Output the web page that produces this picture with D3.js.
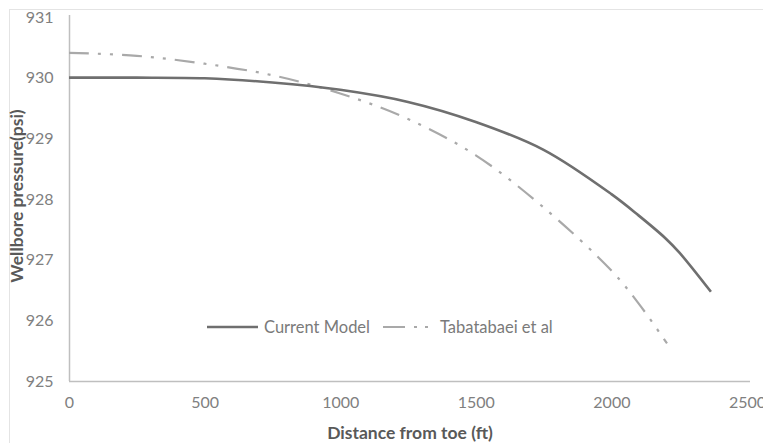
<!DOCTYPE html>
<html>
<head>
<meta charset="utf-8">
<script src="https://cdn.jsdelivr.net/npm/d3@7/dist/d3.min.js"></script>
<style>
  html, body { margin: 0; padding: 0; background: #ffffff; }
  svg { display: block; font-family: Lato, "Liberation Sans", sans-serif; }
</style>
</head>
<body>
<svg id="chart" width="769" height="443"></svg>
<script>
// ---- data ----
const currentDistance = [0, 250, 500, 750, 1000, 1250, 1500, 1750, 2000, 2100, 2200, 2250, 2367];
const currentPressure = [930.00, 930.00, 929.99, 929.92, 929.80, 929.60, 929.27, 928.81, 928.08, 927.73, 927.35, 927.12, 926.47];
const tabDistance = [0, 250, 500, 750, 1000, 1250, 1500, 1750, 2000, 2100, 2205];
const tabPressure = [930.41, 930.36, 930.23, 930.04, 929.74, 929.32, 928.72, 927.86, 926.82, 926.28, 925.62];
const xTicks = [0, 500, 1000, 1500, 2000, 2500];
const yTicks = [925, 926, 927, 928, 929, 930, 931];
const seriesNames = ["Current Model", "Tabatabaei et al"];
const xTitle = "Distance from toe (ft)";
const yTitle = "Wellbore pressure(psi)";

const svg = d3.select("#chart");
svg.append("defs").append("clipPath").attr("id", "outer")
  .append("rect").attr("x", 0).attr("y", 0).attr("width", 763).attr("height", 443);
const root = svg.append("g").attr("clip-path", "url(#outer)");

// chart area frame
root.append("rect").attr("x", 9.5).attr("y", 9.5).attr("width", 820).attr("height", 460)
  .attr("fill", "#ffffff").attr("stroke", "#e4e4e4").attr("stroke-width", 1);

const x = d3.scaleLinear().domain([0, 2500]).range([69, 747]);
const y = d3.scaleLinear().domain([925, 931]).range([381, 17]);

const tickColor = "#808080";
const axisColor = "#bfbfbf";

// x axis
const xAxis = root.append("g").attr("transform", "translate(0,381.5)")
  .call(d3.axisBottom(x).tickValues(xTicks).tickSize(0).tickPadding(15).tickFormat(d3.format("d")));
xAxis.select(".domain").attr("stroke", axisColor).attr("stroke-width", 1.5).attr("d", `M${x(0)},0H750`);
xAxis.selectAll("text").attr("fill", tickColor).attr("font-size", 16).attr("font-family", "Lato, sans-serif");

// y axis
const yAxis = root.append("g").attr("transform", "translate(69.5,0)")
  .call(d3.axisLeft(y).tickValues(yTicks).tickSize(0).tickPadding(16).tickFormat(d3.format("d")));
yAxis.select(".domain").attr("stroke", axisColor).attr("stroke-width", 1.5).attr("d", `M0,15V${y(925)}`);
yAxis.selectAll("text").attr("fill", tickColor).attr("font-size", 16).attr("font-family", "Lato, sans-serif");

// axis titles
root.append("text").attr("x", 410).attr("y", 439).attr("text-anchor", "middle")
  .attr("font-size", 17.5).attr("font-weight", "bold").attr("fill", "#595959").text(xTitle);
root.append("text").attr("transform", "translate(23,196) rotate(-90)").attr("text-anchor", "middle")
  .attr("font-size", 17.5).attr("font-weight", "bold").attr("fill", "#595959").text(yTitle);

// lines
const line = d3.line().x(d => x(d[0])).y(d => y(d[1])).curve(d3.curveCatmullRom.alpha(0.5));
const currentData = currentDistance.map((d, i) => [d, currentPressure[i]]);
const tabData = tabDistance.map((d, i) => [d, tabPressure[i]]);

const solidStyle = { stroke: "#6f6f6f", width: 2.6, dash: null };
const dashStyle = { stroke: "#a9a9a9", width: 2.2, dash: "20,9,3,9,3,9" };

root.append("path").datum(tabData).attr("d", line).attr("fill", "none")
  .attr("stroke", dashStyle.stroke).attr("stroke-width", dashStyle.width)
  .attr("stroke-dasharray", dashStyle.dash);
root.append("path").datum(currentData).attr("d", line).attr("fill", "none")
  .attr("stroke", solidStyle.stroke).attr("stroke-width", solidStyle.width);

// legend
const legend = root.append("g");
const styles = [solidStyle, dashStyle];
const legendItems = [{ x1: 207, x2: 258, tx: 264 }, { x1: 383, x2: 430, tx: 440 }];
legendItems.forEach((it, i) => {
  legend.append("line").attr("x1", it.x1).attr("x2", it.x2).attr("y1", 327).attr("y2", 327)
    .attr("stroke", styles[i].stroke).attr("stroke-width", styles[i].width)
    .attr("stroke-dasharray", styles[i].dash ? "22,9,3,8,3,9" : null);
  legend.append("text").attr("x", it.tx).attr("y", 332.5).attr("font-size", 16.5)
    .attr("fill", "#7a7a7a").text(seriesNames[i]);
});
</script>
</body>
</html>
